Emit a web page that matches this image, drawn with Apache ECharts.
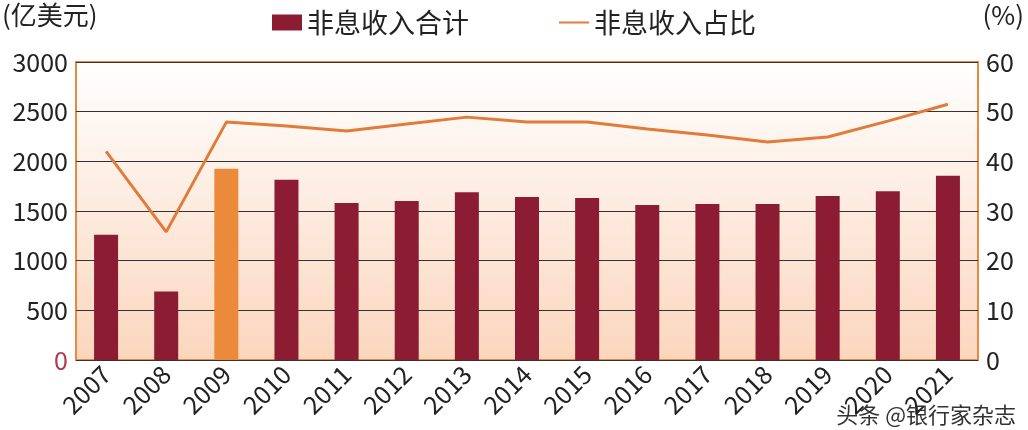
<!DOCTYPE html>
<html><head><meta charset="utf-8">
<script src="https://cdn.jsdelivr.net/npm/echarts@6/dist/echarts.min.js"></script>
<style>html,body{margin:0;background:#fff}#c{width:1028px;height:430px}</style>
</head><body><div id="c"></div>
<script>
var years = ['2007','2008','2009','2010','2011','2012','2013','2014','2015','2016','2017','2018','2019','2020','2021'];
var income = [1260, 690, 1925, 1815, 1580, 1600, 1690, 1640, 1630, 1560, 1570, 1570, 1650, 1700, 1855];
var share = [42, 25.8, 47.9, 47.1, 46.1, 47.5, 48.9, 47.9, 47.9, 46.5, 45.3, 43.9, 44.9, 48.1, 51.5];

var font = 'Noto Sans CJK SC';
var myChart = echarts.init(document.getElementById('c'));
option = {
    textStyle: {fontFamily: font},
    legend: {
        top: 4, left: 'center', itemGap: 90, itemWidth: 30, itemHeight: 16,
        textStyle: {fontSize: 27, color: '#222', fontFamily: font},
        data: [
            {name: '非息收入合计', icon: 'rect', itemStyle: {color: '#8c1c32'}},
            {name: '非息收入占比', icon: 'path://M0,7H30V9H0Z', itemStyle: {color: '#e07b39'}}
        ]
    },
    grid: {left: 76, right: 50, top: 62, bottom: 70,
        show: true, borderColor: '#e8893f', borderWidth: 2,
        backgroundColor: new echarts.graphic.LinearGradient(0, 0, 0, 1, [
            {offset: 0, color: '#ffffff'}, {offset: 1, color: '#fbd6bd'}])},
    graphic: [
        {type: 'text', left: 2, top: 2, style: {text: '(亿美元)', font: '26px "Noto Sans CJK SC"', fill: '#222'}},
        {type: 'text', right: 4, top: 2, style: {text: '(%)', font: '26px "Noto Sans CJK SC"', fill: '#222'}},
        {type: 'text', right: 12, bottom: 4, style: {text: '头条 @银行家杂志', font: '22px "Noto Sans CJK SC"', fill: '#333'}}
    ],
    xAxis: {
        type: 'category', data: years,
        axisLine: {show: false}, axisTick: {show: false},
        axisLabel: {rotate: 45, fontSize: 25, color: '#222', interval: 0, margin: 10}
    },
    yAxis: [{
        type: 'value', min: 0, max: 3000, interval: 500,
        axisLabel: {fontSize: 25, color: '#222', margin: 8,
            formatter: function (v) { return v === 0 ? '{z|0}' : v; },
            rich: {z: {color: '#b03a4a', fontSize: 25}}},
        splitLine: {lineStyle: {color: '#333', width: 1}}
    }, {
        type: 'value', min: 0, max: 60, interval: 10,
        axisLabel: {fontSize: 25, color: '#222', margin: 8},
        splitLine: {show: false}
    }],
    series: [{
        name: '非息收入合计', type: 'bar', barWidth: 24,
        itemStyle: {color: function (p) { return p.dataIndex === 2 ? '#ec8a3c' : '#8c1c32'; }},
        data: income
    }, {
        name: '非息收入占比', type: 'line', yAxisIndex: 1, symbol: 'none',
        lineStyle: {color: '#e07b39', width: 3}, itemStyle: {color: '#e07b39'},
        data: share
    }]
};
myChart.setOption(option);
</script></body></html>
